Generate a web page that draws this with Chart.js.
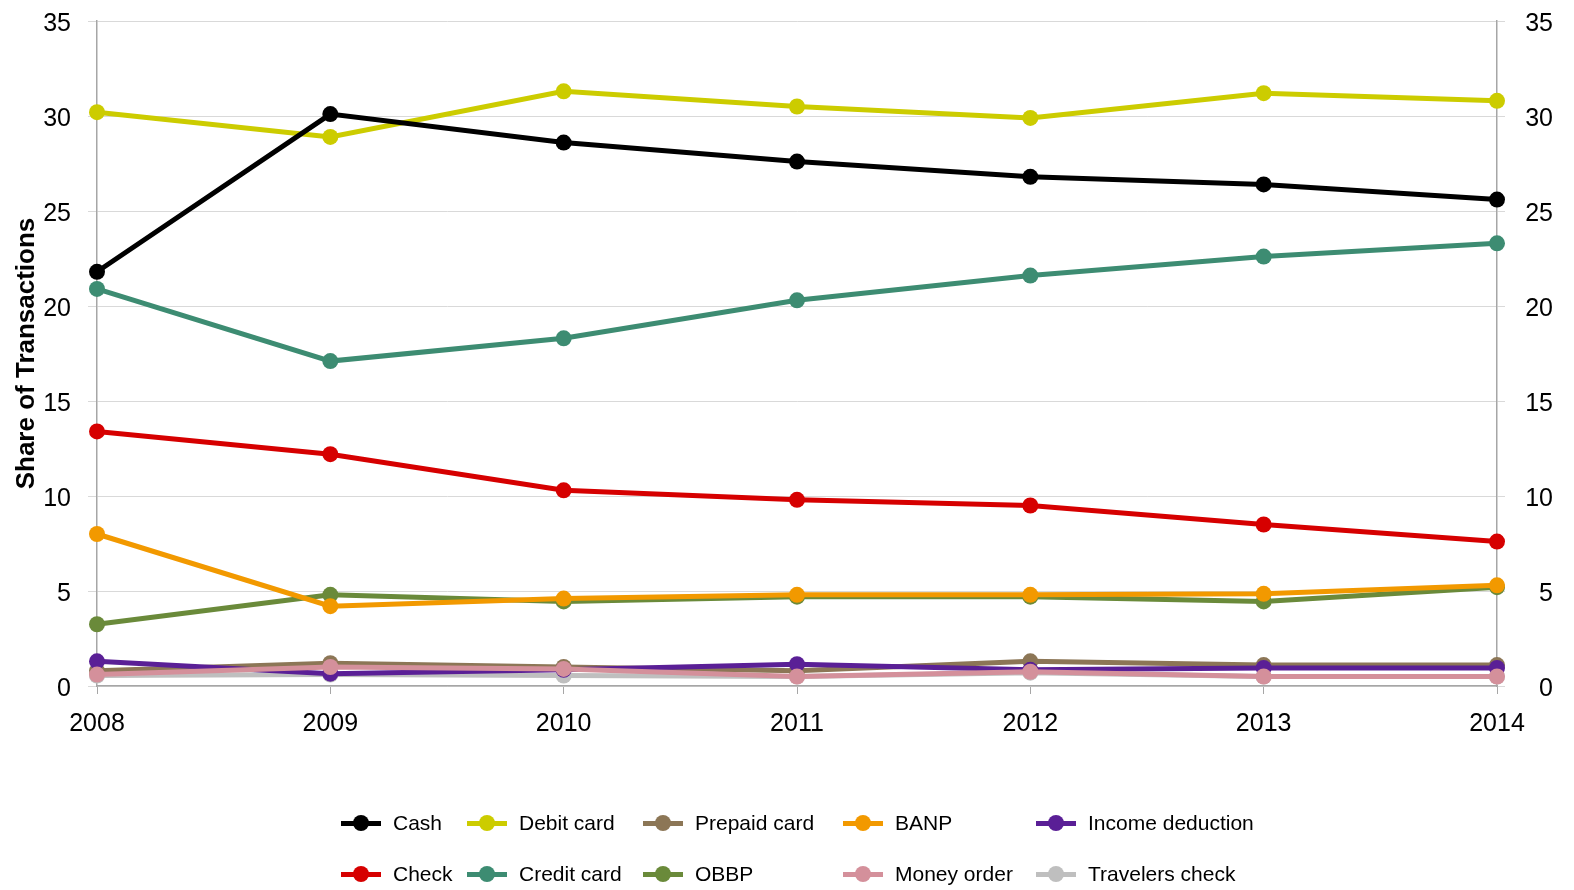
<!DOCTYPE html>
<html>
<head>
<meta charset="utf-8">
<script src="https://cdn.jsdelivr.net/npm/chart.js@4.4.1/dist/chart.umd.min.js"></script>
<style>
  html, body { margin: 0; padding: 0; background: #fff; }
  #wrap { position: relative; width: 1574px; height: 890px; overflow: hidden; }
  #chart { position: absolute; left: 0; top: 0; }
  .legend-item { position: absolute; height: 24px; font: 21px "Liberation Sans", Arial, sans-serif; color: #000; white-space: nowrap; }
  .legend-line { position: absolute; left: 0; top: 9.5px; width: 40px; height: 5px; }
  .legend-dot { position: absolute; left: 12px; top: 4px; width: 16px; height: 16px; border-radius: 50%; }
  .legend-text { position: absolute; left: 52px; top: 0; line-height: 24px; }
</style>
</head>
<body>
<div id="wrap">
  <canvas id="chart" width="1574" height="890"></canvas>
  <div id="legend"></div>
</div>
<script>
const years = ["2008", "2009", "2010", "2011", "2012", "2013", "2014"];

// share of transactions, percent
const cash = [21.8, 30.1, 28.6, 27.6, 26.8, 26.4, 25.6];
const debitCard = [30.2, 28.9, 31.3, 30.5, 29.9, 31.2, 30.8];
const prepaidCard = [0.8, 1.2, 1.0, 0.8, 1.3, 1.1, 1.1];
const banp = [8.0, 4.2, 4.6, 4.8, 4.8, 4.85, 5.3];
const incomeDeduction = [1.3, 0.65, 0.85, 1.15, 0.85, 0.95, 0.95];
const check = [13.4, 12.2, 10.3, 9.8, 9.5, 8.5, 7.6];
const creditCard = [20.9, 17.1, 18.3, 20.3, 21.6, 22.6, 23.3];
const obbp = [3.25, 4.8, 4.45, 4.7, 4.7, 4.45, 5.2];
const moneyOrder = [0.6, 1.0, 0.9, 0.5, 0.75, 0.5, 0.5];
const travelersCheck = [0.55, 0.6, 0.55, 0.5, 0.7, 0.5, 0.5];

const yMin = 0;
const yMax = 35;
const yStep = 5;

const seriesNames = ["Cash", "Debit card", "Prepaid card", "BANP", "Income deduction",
                     "Check", "Credit card", "OBBP", "Money order", "Travelers check"];
const seriesValues = [cash, debitCard, prepaidCard, banp, incomeDeduction,
                      check, creditCard, obbp, moneyOrder, travelersCheck];
const seriesColors = ["#000000", "#cccc00", "#8c7656", "#f29900", "#5a1f96",
                      "#d60000", "#3d8c72", "#6a8a3a", "#d4909b", "#bfbfbf"];
// lower number is drawn on top
const drawOrder = [0, 1, 8, 4, 7, 3, 2, 5, 6, 9];

const datasets = seriesNames.map((name, i) => ({
    label: name,
    data: seriesValues[i],
    borderColor: seriesColors[i],
    backgroundColor: seriesColors[i],
    pointBackgroundColor: seriesColors[i],
    pointBorderWidth: 0,
    pointRadius: 8,
    borderWidth: 5,
    tension: 0,
    clip: false,
    order: drawOrder[i]
}));

Chart.defaults.font.family = '"Liberation Sans", Arial, sans-serif';
Chart.defaults.color = "#000";

const axisGray = "#a6a6a6";
const gridGray = "#d9d9d9";

// small lineHeight keeps the value labels from pushing the plot top down
const valueFont = { size: 25, lineHeight: 0.3 };

new Chart(document.getElementById("chart").getContext("2d"), {
    type: "line",
    data: { labels: years, datasets: datasets },
    options: {
        responsive: false,
        animation: false,
        devicePixelRatio: 1,
        layout: { padding: { top: 21, right: 21, bottom: 0, left: 0 } },
        plugins: {
            legend: { display: false },
            tooltip: { enabled: false }
        },
        scales: {
            x: {
                grid: { drawOnChartArea: false, tickLength: 8, color: axisGray },
                border: { color: axisGray, width: 1.5 },
                ticks: { font: { size: 25 }, padding: 15, maxRotation: 0, autoSkip: false },
                afterFit(scale) { scale.height = 890 - 686; }
            },
            y: {
                min: yMin,
                max: yMax,
                ticks: { stepSize: yStep, font: valueFont, padding: 17, labelOffset: 3.5 },
                grid: { color: gridGray, tickLength: 9 },
                border: { color: axisGray, width: 1.5 },
                title: {
                    display: true,
                    text: "Share of Transactions",
                    font: { size: 26, weight: "bold" },
                    padding: { top: 11, bottom: 0 }
                },
                afterFit(scale) { scale.width = 97; }
            },
            y2: {
                position: "right",
                min: yMin,
                max: yMax,
                ticks: { stepSize: yStep, font: valueFont, crossAlign: "far", labelOffset: 3.5 },
                grid: { drawOnChartArea: false, tickLength: 8, color: gridGray },
                border: { color: axisGray, width: 1.5 },
                afterFit(scale) { scale.width = 1553 - 1497; }
            }
        }
    }
});

// two-row legend below the plot
const legendCols = [341, 467, 643, 843, 1036];
const legendRows = [823, 874];
const legend = document.getElementById("legend");
seriesNames.forEach((name, i) => {
    const item = document.createElement("div");
    item.className = "legend-item";
    item.style.left = legendCols[i % 5] + "px";
    item.style.top = (legendRows[Math.floor(i / 5)] - 12) + "px";

    const line = document.createElement("span");
    line.className = "legend-line";
    line.style.background = seriesColors[i];
    const dot = document.createElement("span");
    dot.className = "legend-dot";
    dot.style.background = seriesColors[i];
    const text = document.createElement("span");
    text.className = "legend-text";
    text.textContent = name;

    item.appendChild(line);
    item.appendChild(dot);
    item.appendChild(text);
    legend.appendChild(item);
});
</script>
</body>
</html>
